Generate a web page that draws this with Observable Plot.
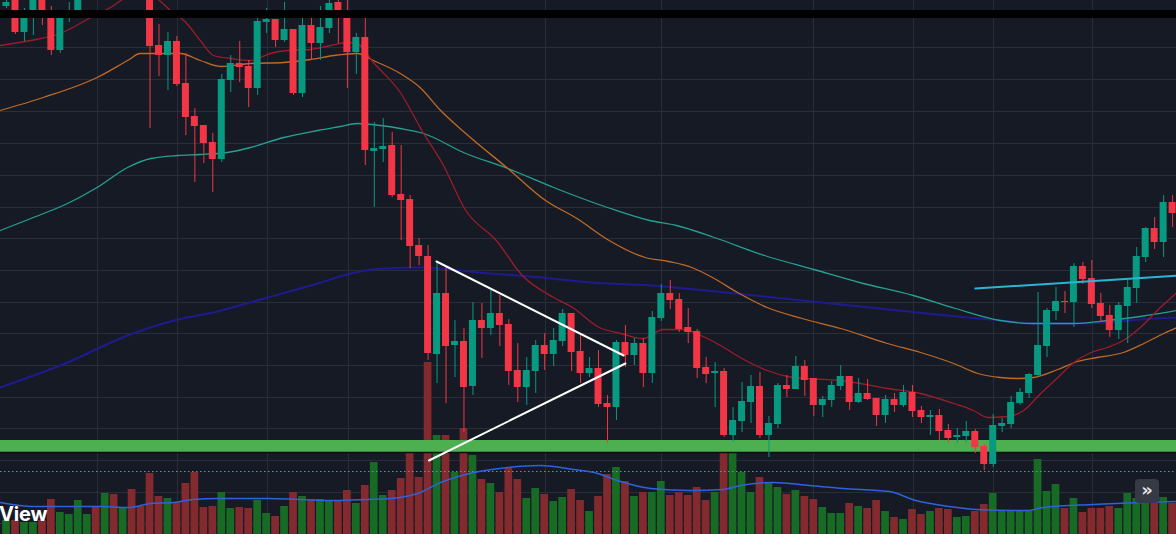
<!DOCTYPE html>
<html><head><meta charset="utf-8">
<script src="https://cdn.jsdelivr.net/npm/d3@7"></script>
<script src="https://cdn.jsdelivr.net/npm/@observablehq/plot@0.6"></script>
<style>
html,body{margin:0;padding:0;background:#161a25;overflow:hidden}
#wrap{position:relative;width:1176px;height:534px;overflow:hidden;background:#161a25}
#wrap svg{position:absolute;left:0;top:0}
.logo{position:absolute;left:-1px;top:503px;font:700 20px Inter,"DejaVu Sans",sans-serif;line-height:22px;color:#fff;letter-spacing:-0.2px}
.btn{position:absolute;left:1135px;top:479px;width:24px;height:24px;border-radius:4px;background:#363a45;color:#e8e8ea;font:600 18px "DejaVu Sans",sans-serif;line-height:22px;text-align:center}
</style></head>
<body>
<div id="wrap"></div>
<script>
// ---- candle data (index 0..130), prices ----
const opens = [594,608,568,586,604,584,550,584,585,608, 630,618,645,630,660,640,615,555,545,559, 517,484,475,458,441,520,537,534,512,578, 581,560,571,507,575,557,572,598,588,548, 563,449,451,455,406,401,355,344,246,307, 255,259,214,280,272,287,276,230,213,229, 255,246,259,287,249,227,232,197,193,258, 245,257,227,282,307,301,273,269,233,227, 229,165,179,198,214,165,176,215,211,234, 222,195,200,214,224,198,207,202,185,201, 195,208,190,183,185,170,163,164,169,154, 136,174,176,197,207,225,254,289,299,298, 334,322,297,285,270,294,312,343,372,358, 398];
const highs = [602,612,592,610,608,594,587,598,610,636, 640,650,655,666,670,648,620,576,568,564, 547,492,475,467,526,545,559,540,583,592, 581,598,571,585,590,594,602,603,603,567, 583,478,482,468,455,405,362,355,337,333, 280,272,298,297,312,305,281,257,243,260, 267,272,291,287,265,243,250,205,260,275, 262,262,289,316,320,307,292,271,243,238, 232,193,218,225,228,184,217,225,244,240, 222,204,219,235,224,222,221,202,205,207, 215,215,194,190,191,176,172,179,171,156, 186,182,204,212,227,308,292,313,309,337, 338,340,307,295,298,320,353,373,383,405, 405];
const lows = [592,566,559,565,575,545,547,578,583,604, 606,610,620,624,630,605,472,524,510,514, 465,418,437,408,438,508,518,493,505,567, 553,558,505,503,540,540,567,557,512,526, 435,393,438,403,360,332,335,240,217,197, 223,168,205,242,265,254,215,198,195,207, 230,234,254,229,217,223,193,157,180,233, 235,213,217,279,291,268,257,222,217,193, 163,158,168,177,162,143,172,203,211,204, 184,183,193,210,190,197,200,174,177,188, 193,183,177,165,160,157,157,158,147,130, 133,168,172,195,202,224,243,280,287,273, 316,292,278,263,261,257,297,338,351,343, 373];
const closes = [598,568,587,606,583,550,585,586,606,630, 618,645,630,660,640,615,554,545,559,516, 483,474,457,441,521,537,533,512,579,581, 560,571,507,575,557,573,597,587,548,563, 450,452,454,405,400,354,344,247,307,254, 259,213,280,272,287,275,229,213,230,255, 246,260,287,248,227,232,196,193,258,245, 257,227,283,307,300,271,268,232,226,229, 165,180,199,214,165,177,215,211,234,220, 195,201,215,224,198,207,201,185,201,195, 208,189,183,185,169,162,165,169,153,136, 175,177,198,208,226,255,290,299,298,334, 321,296,284,270,295,313,344,372,358,398, 387];
const volumes = [140,140,120,120,140,350,220,200,340,200, 270,410,400,260,450,280,610,380,360,320, 510,620,270,280,420,260,270,260,340,210, 180,280,420,380,350,350,340,330,440,310, 490,720,390,440,560,810,570,1720,990,990, 620,1060,790,550,510,420,660,550,360,460, 400,330,370,450,340,230,380,600,670,530, 380,420,420,530,390,420,390,470,340,420, 830,940,620,420,570,520,470,400,440,380, 350,270,210,210,310,280,260,340,230,170, 150,250,200,230,260,250,170,180,230,300, 410,240,240,230,230,750,430,500,260,360, 220,260,260,280,260,410,360,340,320,370, 310];

// ---- moving averages [candle index, value] ----
const maFast = [[-0.7,555],[2.7,560],[6,567],[9.4,583],[11.6,593],[13.3,603],[14.9,608],[16.6,603],[18.3,590],[20,578],[21.6,560],[23.1,545],[25,542],[27.2,540],[29.4,547],[31.3,550],[33.9,551],[36.1,555],[38,558],[39.1,557],[40.9,538],[43.9,508],[46.5,467],[48.6,437],[51.2,390],[54.6,360],[57.5,325],[61,303],[63.1,293],[66.1,273],[68.5,267],[71,262],[73.2,271],[75.5,271],[77.4,265],[79.6,255],[81.8,243],[84.8,230],[87.1,224],[89.3,222],[93,220],[98.2,212],[101.9,207],[105.6,197],[107.8,190],[109.4,183],[111.6,184],[113.4,190],[115.3,207],[117.2,223],[119,238],[120.9,248],[122.7,253],[124.5,260],[126.4,273],[128.3,290],[130.5,308]];
const maMid = [[-0.7,490],[4.1,503],[10.1,523],[13.5,540],[14.9,547],[16.8,547],[19.4,547],[21.6,540],[23.9,534],[27.2,537],[30.9,538],[33.9,541],[36.5,545],[39.1,547],[40.9,540],[43.9,527],[46.1,513],[48.4,490],[51.2,467],[55.9,432],[60.1,400],[63.6,382],[67,361],[71.2,343],[73.8,339],[76.4,333],[78.9,322],[81.5,308],[84.8,293],[88.7,282],[93,272],[98.2,257],[101.9,248],[105.6,237],[108.3,227],[110.8,223],[112.7,222],[114.5,223],[117.2,231],[119.4,239],[121.6,243],[124.5,248],[126.8,257],[129,267],[130.5,273]];
const maSlow = [[-0.7,370],[3,383],[6.8,397],[10.1,413],[13.5,433],[16.1,442],[19.1,445],[21.6,446],[24.6,448],[27.2,453],[30.9,463],[34.7,470],[37.2,474],[39.1,477],[41.7,475],[43.9,472],[46.5,467],[51.2,447],[55.9,432],[61,413],[67,393],[71.7,380],[74.7,375],[78.9,363],[84.5,345],[90,331],[95.1,318],[101.1,305],[105.8,292],[110.8,280],[114.5,277],[119,277],[122.7,280],[126.4,284],[130.5,290]];
const maLong = [[-0.7,213],[6.8,238],[13.5,265],[19.1,281],[23.5,289],[29.1,303],[34.7,317],[38.4,327],[42,332],[46.2,333],[48.4,332],[52.5,328],[58.4,324],[65.2,318],[71.8,315],[78,310],[86.6,302],[95.1,294],[103.7,286],[110.8,280],[114.5,277],[119,277],[122.7,278],[126.4,281],[130.5,283]];
const volMA = [[-0.7,320],[3,280],[6.8,280],[10.5,280],[13.5,270],[16.1,310],[18.6,320],[20.8,350],[23.5,360],[29.1,360],[32.8,350],[36.5,340],[40.2,350],[42.8,360],[45.8,410],[48.4,520],[52.1,620],[55.9,670],[59.5,690],[63.2,650],[65.9,610],[68.1,540],[71.8,460],[76.3,440],[79.9,450],[81.8,490],[85.5,520],[89.5,490],[93.3,460],[98.4,430],[101.4,340],[105.1,280],[108.1,250],[113.7,240],[115.6,270],[121.2,300],[126.8,320],[130.5,330]];

// ---- drawings ----
const triUpper = [[47.94,339],[68.8,245]];
const triLower = [[47.1,140],[69.0,237]];
const resistance = [[108.0,312],[131,325]];
const supportBand = [148,160];
const topBar = [582,590];
const volLevel = 630;

// ---- grid ----
const gridPrices = [585,553,521,489,457,425,393,362,330,298,267,235,203,172,140,108,77];
const gridIdx = [10.14,19.06,29.1,38.13,60.09,73.02,89.97,101.11,110.03,121.07];

const xDomain = [-0.669, 130.435];
const priceDomain = [66, 600];
const volDomain = [0, 5340];
const UP = "#089981", DOWN = "#f23645";
const VUP = "#176b24", VDOWN = "#822a2d";

const candles = opens.map((o, i) => ({i, open: o, high: highs[i], low: lows[i], close: closes[i], vol: volumes[i], up: closes[i] >= o}));

const base = {width: 1176, height: 534, marginTop: 0, marginBottom: 0, marginLeft: 0, marginRight: 0,
  x: {type: "linear", domain: xDomain, axis: null}};

const gridPlot = Plot.plot({...base, style: {background: "#161a25"},
  y: {domain: priceDomain, axis: null},
  marks: [
    Plot.ruleY(gridPrices, {stroke: "#2a2e39", strokeWidth: 1}),
    Plot.ruleX(gridIdx, {stroke: "#2a2e39", strokeWidth: 1})
  ]});

const volPlot = Plot.plot({...base, style: {background: "transparent"},
  y: {domain: volDomain, axis: null},
  marks: [
    Plot.rect(candles, {x1: d => d.i - 0.43, x2: d => d.i + 0.43, y1: () => 0, y2: "vol", fill: d => d.up ? VUP : VDOWN}),
    Plot.ruleY([volLevel], {stroke: "#4e9ea6", strokeWidth: 1, strokeDasharray: "1.5,2.5"}),
    Plot.line(volMA, {x: d => d[0], y: d => d[1], curve: "monotone-x", stroke: "#2f62dc", strokeWidth: 1.5})
  ]});

const pricePlot = Plot.plot({...base, style: {background: "transparent"},
  y: {domain: priceDomain, axis: null},
  marks: [
    Plot.rect([supportBand], {x1: () => xDomain[0], x2: () => xDomain[1], y1: d => d[0], y2: d => d[1], fill: "#4caf50"}),
    Plot.ruleY([supportBand[0]], {stroke: "#0c0e13", strokeWidth: 1.5}),
    Plot.line(maLong, {x: d => d[0], y: d => d[1], curve: "monotone-x", stroke: "#1f1b8e", strokeWidth: 2}),
    Plot.line(maSlow, {x: d => d[0], y: d => d[1], curve: "monotone-x", stroke: "#26a092", strokeWidth: 1.3}),
    Plot.line(maMid, {x: d => d[0], y: d => d[1], curve: "monotone-x", stroke: "#c06a26", strokeWidth: 1.3}),
    Plot.line(maFast, {x: d => d[0], y: d => d[1], curve: "monotone-x", stroke: "#9c1c2c", strokeWidth: 1.3}),
    Plot.ruleX(candles, {x: "i", y1: "low", y2: "high", stroke: d => d.up ? UP : DOWN, strokeWidth: 1}),
    Plot.rect(candles, {x1: d => d.i - 0.39, x2: d => d.i + 0.39, y1: "open", y2: "close", fill: d => d.up ? UP : DOWN}),
    Plot.line(triUpper, {x: d => d[0], y: d => d[1], stroke: "#ffffff", strokeWidth: 2}),
    Plot.line(triLower, {x: d => d[0], y: d => d[1], stroke: "#ffffff", strokeWidth: 2}),
    Plot.line(resistance, {x: d => d[0], y: d => d[1], stroke: "#2bb4d6", strokeWidth: 2}),
    Plot.rect([topBar], {x1: () => xDomain[0], x2: () => xDomain[1], y1: d => d[0], y2: d => d[1], fill: "#000000"})
  ]});

const wrap = document.getElementById("wrap");
wrap.append(gridPlot, volPlot, pricePlot);
const logo = document.createElement("div"); logo.className = "logo"; logo.textContent = "View"; wrap.append(logo);
const btn = document.createElement("div"); btn.className = "btn"; btn.textContent = "»"; wrap.append(btn);
</script>
</body></html>
